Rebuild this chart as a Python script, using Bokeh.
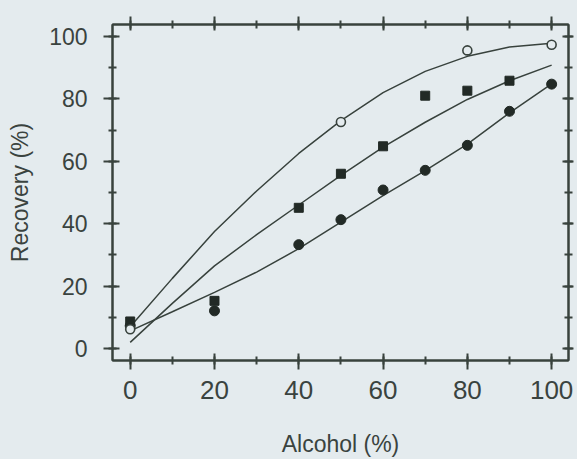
from bokeh.plotting import figure
from bokeh.models import LinearAxis, Range1d, SingleIntervalTicker, CustomJSTickFormatter
from bokeh.embed import file_html
from bokeh.resources import INLINE

# ---- data ----
open_x = [0, 50, 80, 100]
open_y = [6.2, 72.6, 95.5, 97.3]

sq_x = [0, 20, 40, 50, 60, 70, 80, 90]
sq_y = [8.7, 15.3, 45.1, 56.0, 64.8, 81.0, 82.6, 85.8]

fill_x = [0, 20, 40, 50, 60, 70, 80, 90, 100]
fill_y = [7.3, 12.1, 33.3, 41.3, 50.8, 57.1, 65.1, 76.0, 84.7]

curve_x = [0, 10, 20, 30, 40, 50, 60, 70, 80, 90, 100]
curve_open = [7.0, 22.5, 37.5, 50.5, 62.5, 73.0, 82.0, 88.8, 93.6, 96.6, 97.8]
curve_sq = [2.0, 14.5, 26.5, 36.5, 46.0, 55.5, 64.5, 72.5, 79.8, 85.8, 90.8]
curve_fill = [5.7, 11.8, 18.0, 24.5, 32.0, 40.5, 49.0, 57.0, 65.5, 75.5, 84.8]

BG = "#e4ebee"
INK = "#38423d"
TXT = "#3a433f"
DOT = "#222a26"
FONT = "Liberation Sans"

p = figure(width=577, height=459,
           x_range=Range1d(-4.2, 104.0), y_range=Range1d(-3.8, 103.8),
           output_backend="svg", toolbar_location=None,
           min_border_left=112, min_border_right=9,
           min_border_top=24, min_border_bottom=95)

p.background_fill_color = BG
p.border_fill_color = BG
p.outline_line_color = INK
p.outline_line_width = 2
p.xgrid.visible = False
p.ygrid.visible = False


def style_axis(ax, tick_out=9, tick_in=7):
    ax.ticker = SingleIntervalTicker(interval=20, num_minor_ticks=2)
    ax.axis_line_color = INK
    ax.axis_line_width = 2
    ax.major_tick_line_color = INK
    ax.major_tick_line_width = 2
    ax.minor_tick_line_color = INK
    ax.minor_tick_line_width = 2
    ax.major_tick_in = tick_in
    ax.major_tick_out = tick_out
    ax.minor_tick_in = 4
    ax.minor_tick_out = min(4, tick_out)
    ax.major_label_text_font = FONT
    ax.major_label_text_color = TXT
    ax.axis_label_text_font = FONT
    ax.axis_label_text_color = TXT
    ax.axis_label_text_font_style = "normal"
    ax.axis_label_text_font_size = "23px"


xa = p.xaxis[0]
style_axis(xa)
xa.major_label_text_font_size = "26px"
xa.major_label_standoff = 11
xa.axis_label = "Alcohol (%)"
xa.axis_label_standoff = 29

ya = p.yaxis[0]
style_axis(ya)
ya.major_label_text_font_size = "23px"
ya.major_label_standoff = 16
ya.axis_label = "Recovery (%)"
ya.axis_label_standoff = 13

blank = CustomJSTickFormatter(code="return ''")

top_ax = LinearAxis(formatter=blank)
style_axis(top_ax, tick_out=8, tick_in=6)
top_ax.major_label_text_font_size = "2px"
top_ax.major_label_standoff = 0
p.add_layout(top_ax, "above")

right_ax = LinearAxis(formatter=blank)
style_axis(right_ax, tick_out=5, tick_in=6)
right_ax.major_label_text_font_size = "2px"
right_ax.major_label_standoff = 0
p.add_layout(right_ax, "right")

# fitted curves
for cy in (curve_open, curve_sq, curve_fill):
    p.line(curve_x, cy, line_color=INK, line_width=1.5)

# markers
p.scatter(sq_x, sq_y, marker="square", size=9, fill_color=DOT, line_color=DOT)
p.scatter(fill_x, fill_y, marker="circle", size=10, fill_color=DOT, line_color=DOT)
p.scatter(open_x, open_y, marker="circle", size=9, fill_color=BG,
          line_color=INK, line_width=1.6)

html = file_html(p, INLINE)
html = html.replace("</head>", "<style>body{background:%s}</style></head>" % BG, 1)
open("out.html", "w").write(html)
